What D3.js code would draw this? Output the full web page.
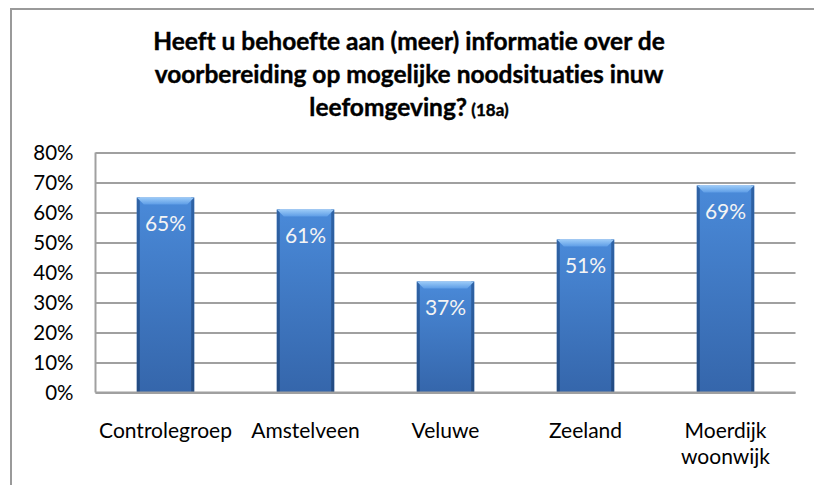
<!DOCTYPE html>
<html>
<head>
<meta charset="utf-8">
<script src="https://cdn.jsdelivr.net/npm/d3@7"></script>
<style>
  body { margin: 0; background: #fff; }
  svg { display: block; font-family: Lato, "Open Sans", sans-serif; font-variant-ligatures: none; }
</style>
</head>
<body>
<div id="graphContainer"></div>
<script>
// chart data
var categories = ['Controlegroep', 'Amstelveen', 'Veluwe', 'Zeeland', 'Moerdijk woonwijk'];
var values = [0.65, 0.61, 0.37, 0.51, 0.69];
var valueLabels = ['65%', '61%', '37%', '51%', '69%'];
var yTicks = [0, 0.1, 0.2, 0.3, 0.4, 0.5, 0.6, 0.7, 0.8];
var titleLines = ['Heeft u behoefte aan (meer) informatie over de',
                  'voorbereiding op mogelijke noodsituaties inuw',
                  'leefomgeving?'];
var titleNote = '(18a)';

var W = 814, H = 485;
var margin = { top: 152.5, right: 18.5, bottom: 92.5, left: 95.5 };
var width = W - margin.left - margin.right,
    height = H - margin.top - margin.bottom;

var svg = d3.select('#graphContainer').append('svg')
    .attr('width', W)
    .attr('height', H);

// gradients for the bevelled bars
var defs = svg.append('defs');
var gMain = defs.append('linearGradient').attr('id', 'barMain')
    .attr('x1', 0).attr('y1', 0).attr('x2', 0).attr('y2', 1);
gMain.append('stop').attr('offset', '0%').attr('stop-color', '#4a8ad9');
gMain.append('stop').attr('offset', '100%').attr('stop-color', '#3566ab');

var gTop = defs.append('linearGradient').attr('id', 'barTop')
    .attr('x1', 0).attr('y1', 0).attr('x2', 0).attr('y2', 1);
gTop.append('stop').attr('offset', '0%').attr('stop-color', '#9ccbf8');
gTop.append('stop').attr('offset', '100%').attr('stop-color', '#5e9de6');

var gSide = defs.append('linearGradient').attr('id', 'barSide')
    .attr('x1', 0).attr('y1', 0).attr('x2', 0).attr('y2', 1);
gSide.append('stop').attr('offset', '0%').attr('stop-color', '#2f63a6');
gSide.append('stop').attr('offset', '100%').attr('stop-color', '#234b82');

// outer frame
svg.append('rect')
    .attr('x', 11).attr('y', 9)
    .attr('width', 900).attr('height', 600)
    .attr('fill', 'none')
    .attr('stroke', '#9a9a9a')
    .attr('stroke-width', 2);

// title
var title = svg.append('text')
    .attr('text-anchor', 'middle')
    .attr('font-weight', 'bold')
    .attr('font-size', 24.5)
    .attr('fill', '#000')
    .attr('stroke', '#000')
    .attr('stroke-width', 0.4);
titleLines.forEach(function(line, i) {
    title.append('tspan')
        .attr('x', 409)
        .attr('y', 50 + i * 33)
        .text(line);
    if (i == titleLines.length - 1) {
        title.append('tspan').attr('font-size', 17).text(' ' + titleNote);
    }
});

var g = svg.append('g')
    .attr('transform', 'translate(' + margin.left + ',' + margin.top + ')');

var x = d3.scaleBand()
    .domain(categories)
    .range([0, width])
    .paddingInner(0.59)
    .paddingOuter(0.295);

var y = d3.scaleLinear()
    .domain([0, 0.8])
    .range([height, 0]);

// gridlines + y labels
var yAxis = g.append('g')
    .call(d3.axisLeft(y).tickValues(yTicks).tickSize(-width).tickPadding(22)
        .tickFormat(d3.format('.0%')));
yAxis.select('.domain').remove();
yAxis.selectAll('.tick line')
    .attr('stroke', '#a0a0a0')
    .attr('stroke-width', 2);
yAxis.selectAll('.tick text')
    .attr('font-size', 20.5)
    .attr('fill', '#000')
    .style('font-family', 'Lato, sans-serif');

// left axis line
g.append('line')
    .attr('x1', 0).attr('x2', 0)
    .attr('y1', 0).attr('y2', height)
    .attr('stroke', '#a0a0a0')
    .attr('stroke-width', 2);

// bars
var bars = g.selectAll('.bar')
    .data(values)
    .enter().append('g')
    .attr('class', 'bar')
    .attr('transform', function(d, i) {
        return 'translate(' + x(categories[i]) + ',' + y(d) + ')';
    });

var bw = x.bandwidth();
bars.append('rect')
    .attr('width', bw)
    .attr('height', function(d) { return height - y(d); })
    .attr('fill', 'url(#barMain)');
// side bevels
bars.append('rect')
    .attr('width', 3)
    .attr('height', function(d) { return height - y(d); })
    .attr('fill', 'url(#barSide)');
bars.append('rect')
    .attr('x', bw - 3)
    .attr('width', 3)
    .attr('height', function(d) { return height - y(d); })
    .attr('fill', 'url(#barSide)');
// top bevel
bars.append('path')
    .attr('d', 'M0,0 L' + bw + ',0 L' + (bw - 7) + ',7 L7,7 Z')
    .attr('fill', 'url(#barTop)');

bars.append('text')
    .attr('x', bw / 2)
    .attr('y', 33)
    .attr('text-anchor', 'middle')
    .attr('font-size', 21)
    .attr('fill', '#f4f4f4')
    .text(function(d, i) { return valueLabels[i]; });

// baseline
g.append('line')
    .attr('x1', 0).attr('x2', width)
    .attr('y1', height).attr('y2', height)
    .attr('stroke', '#a0a0a0')
    .attr('stroke-width', 2);

// category labels
var xAxis = g.append('g')
    .attr('transform', 'translate(0,' + height + ')')
    .call(d3.axisBottom(x).tickSize(0).tickPadding(0));
xAxis.select('.domain').remove();
xAxis.selectAll('.tick text')
    .attr('font-size', 21)
    .attr('fill', '#000')
    .attr('dy', null)
    .attr('y', 0)
    .style('font-family', 'Lato, sans-serif')
    .each(function(d) {
        var el = d3.select(this);
        var words = d.split(' ');
        var lines = words.length > 1 && d.length > 14 ? words : [d];
        el.text(null);
        lines.forEach(function(w, i) {
            el.append('tspan').attr('x', 0).attr('y', 45 + i * 26.5).text(w);
        });
    });
</script>
</body>
</html>
